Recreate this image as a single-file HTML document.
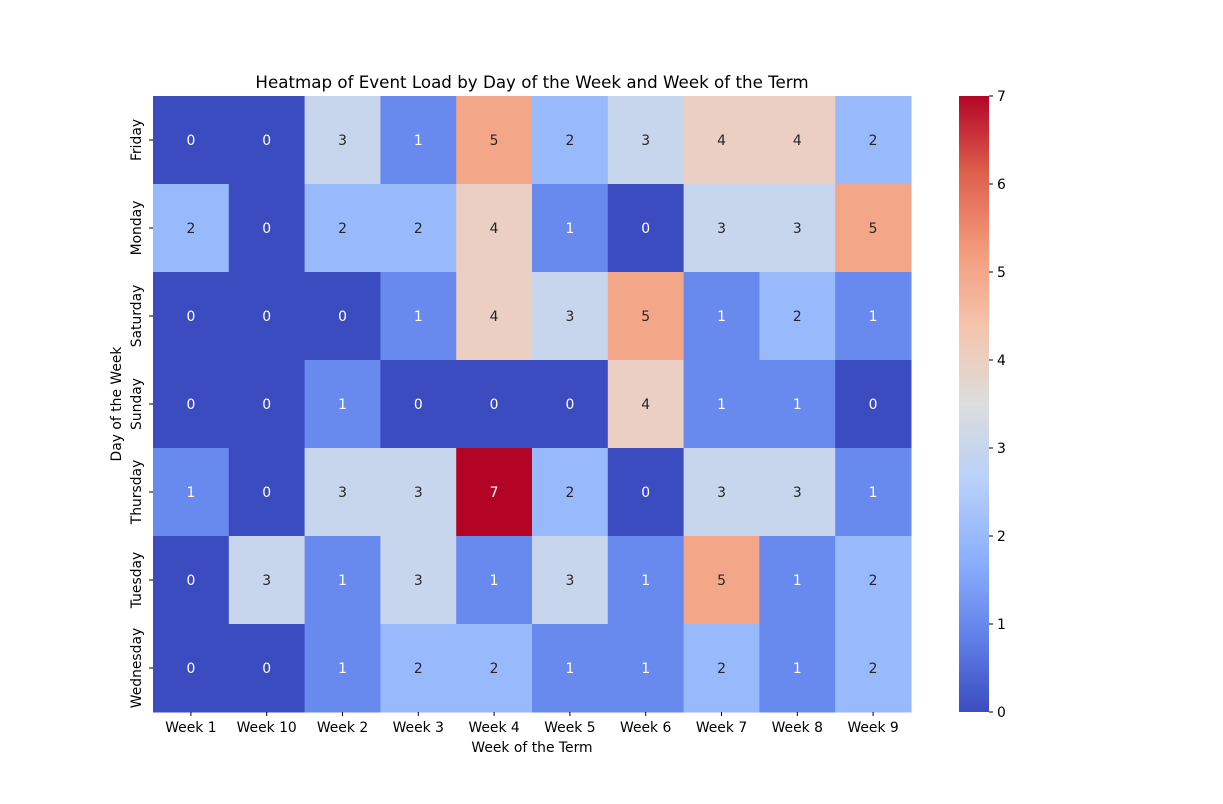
<!DOCTYPE html>
<html><head><meta charset="utf-8"><style>
body{margin:0;background:#fff;font-family:"DejaVu Sans","Liberation Sans",sans-serif;}
svg text{font-family:"DejaVu Sans","Liberation Sans",sans-serif;}
</style></head><body>
<svg id="chart" width="1223" height="800" xmlns="http://www.w3.org/2000/svg">
<defs>
<linearGradient id="cw" x1="0" y1="1" x2="0" y2="0">
<stop offset="0" stop-color="rgb(59,76,192)"/><stop offset="0.125" stop-color="rgb(98,130,234)"/>
<stop offset="0.25" stop-color="rgb(141,176,254)"/><stop offset="0.375" stop-color="rgb(184,208,249)"/>
<stop offset="0.5" stop-color="rgb(221,221,221)"/><stop offset="0.625" stop-color="rgb(245,196,173)"/>
<stop offset="0.75" stop-color="rgb(244,154,123)"/><stop offset="0.875" stop-color="rgb(222,96,77)"/>
<stop offset="1" stop-color="rgb(180,4,38)"/>
</linearGradient>
</defs>
<text x="532" y="88" text-anchor="middle" font-size="16.7">Heatmap of Event Load by Day of the Week and Week of the Term</text>
<g id="cells"></g>
<text x="532" y="752" text-anchor="middle" font-size="13.9">Week of the Term</text>
<text transform="translate(121,404) rotate(-90)" text-anchor="middle" font-size="13.9">Day of the Week</text>
<rect x="959" y="96" width="30" height="616" fill="url(#cw)"/>
<g id="cbticks"></g>
</svg>
<script>
const weeks=["Week 1","Week 10","Week 2","Week 3","Week 4","Week 5","Week 6","Week 7","Week 8","Week 9"];
const days=["Friday","Monday","Saturday","Sunday","Thursday","Tuesday","Wednesday"];
const rowFriday=[0,0,3,1,5,2,3,4,4,2];
const rowMonday=[2,0,2,2,4,1,0,3,3,5];
const rowSaturday=[0,0,0,1,4,3,5,1,2,1];
const rowSunday=[0,0,1,0,0,0,4,1,1,0];
const rowThursday=[1,0,3,3,7,2,0,3,3,1];
const rowTuesday=[0,3,1,3,1,3,1,5,1,2];
const rowWednesday=[0,0,1,2,2,1,1,2,1,2];
const values=[rowFriday,rowMonday,rowSaturday,rowSunday,rowThursday,rowTuesday,rowWednesday];
const cbTicks=[0,1,2,3,4,5,6,7];
const NS="http://www.w3.org/2000/svg";
const X0=153,X1=911,Y0=96,Y1=712,VMAX=7;
const cw=(X1-X0)/weeks.length,ch=(Y1-Y0)/days.length;
const xs=i=>X0+i*cw, ys=j=>Y0+j*ch;
const stops=[[59,76,192],[98,130,234],[141,176,254],[184,208,249],[221,221,221],[245,196,173],[244,154,123],[222,96,77],[180,4,38]];
function color(v){let t=v/VMAX*8,i=Math.min(7,Math.floor(t)),f=t-i;const a=stops[i],b=stops[i+1];return `rgb(${a.map((c,k)=>Math.round(c+(b[k]-c)*f)).join(',')})`;}
const g=document.getElementById('cells');
function mk(tag,attrs,parent){const e=document.createElementNS(NS,tag);for(const k in attrs)e.setAttribute(k,attrs[k]);parent.appendChild(e);return e;}
values.forEach((row,j)=>row.forEach((v,i)=>{
 const r=mk('rect',{x:xs(i),y:ys(j),width:cw+0.5,height:ch+0.5,fill:color(v)},g);
 
 
 const t=mk('text',{x:xs(i)+cw/2,y:ys(j)+ch/2+5,'text-anchor':'middle','font-size':13.9,fill:(v<=1||v>=6)?'#fff':'#262626'},g);
 t.textContent=v;
 
 
}));
weeks.forEach((w,i)=>{
 mk('line',{x1:xs(i)+cw/2,x2:xs(i)+cw/2,y1:Y1,y2:Y1+4,stroke:'#000'},g);
 const t=mk('text',{x:xs(i)+cw/2,y:Y1+20,'text-anchor':'middle','font-size':13.9},g);t.textContent=w;
 
 
});
days.forEach((d,j)=>{
 const y=ys(j)+ch/2;
 mk('line',{x1:X0-4,x2:X0,y1:y,y2:y,stroke:'#000'},g);
 const t=mk('text',{transform:`translate(141,${y}) rotate(-90)`,'text-anchor':'middle','font-size':13.9},g);t.textContent=d;
 
 
});
const cb=document.getElementById('cbticks');
cbTicks.forEach(v=>{
 const y=Y1-v/VMAX*(Y1-Y0);
 mk('line',{x1:989,x2:993,y1:y,y2:y,stroke:'#000'},cb);
 const t=mk('text',{x:997,y:y+5,'font-size':13.9},cb);t.textContent=v;
 
 
});
</script>
</body></html>
